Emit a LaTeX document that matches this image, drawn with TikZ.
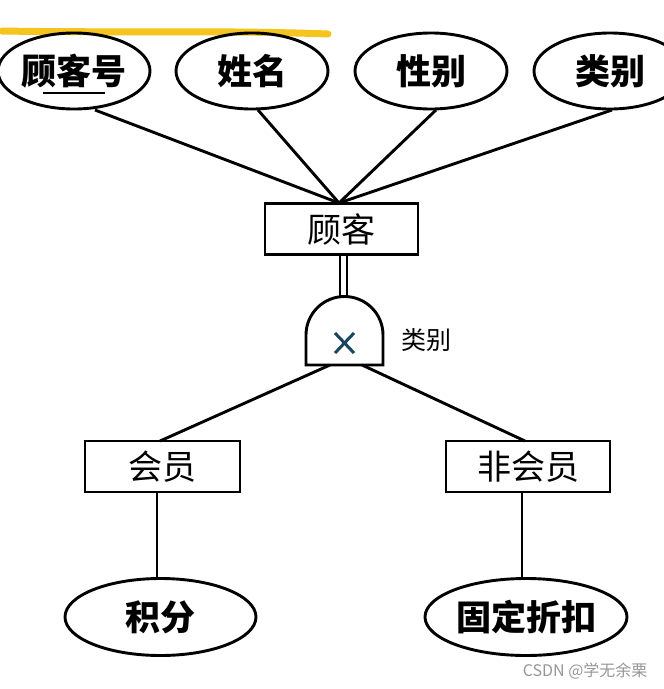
\documentclass[tikz,border=0pt]{standalone}
\usepackage{fontspec}
\usetikzlibrary{shapes.geometric}
\newfontfamily\cjk{Noto Sans CJK SC}
\begin{document}
\begin{tikzpicture}[x=1pt,y=-1pt,
  lw/.style={line width=2.9pt},
  attr/.style={ellipse,draw,lw,minimum width=152pt,minimum height=76pt,inner sep=0pt,font=\cjk\bfseries\fontsize{35}{35}\selectfont},
  ent/.style={rectangle,draw,lw,minimum height=51pt,inner sep=0pt,font=\cjk\fontsize{34}{34}\selectfont},
  conn/.style={lw}]
\useasboundingbox (0,0) rectangle (664,689);
\clip (0,0) rectangle (664,689);
% yellow highlight
\draw[line width=7pt,color={rgb,255:red,245;green,196;blue,30},line cap=round] (2,31) .. controls (120,33) and (220,30) .. (328,34);
% attributes
\node[attr] (gkh) at (74,71) {顾客号};
\node[attr] (xm) at (252,71) {姓名};
\node[attr] (xb) at (431,71) {性别};
\node[attr] (lb) at (610,71) {类别};
\draw[line width=2.9pt] (43,93) -- (105,93);
% entity
\node[ent,minimum width=153pt] (gk) at (341.5,229) {顾客};
\coordinate (top) at (339,203);
\draw[conn] (95,110) -- (top);
\draw[conn] (258,110) -- (top);
\draw[conn] (436,110) -- (top);
\draw[conn] (612,110) -- (top);
% specialization circle
\coordinate (d1) at (340,255);
\coordinate (d2) at (347,255);
\draw[conn] (d1) -- (340,298);
\draw[conn] (d2) -- (347,298);
\draw[lw,fill=white] (306,365) -- (306,335) arc[start angle=180,end angle=360,radius=38.5] -- (383,365) -- cycle;
\draw[line width=3pt,color={rgb,255:red,24;green,70;blue,96}] (335,333) -- (354,353) (335,353) -- (354,333);
\node[font=\cjk\fontsize{25}{25}\selectfont,anchor=west] (lbl) at (398,340) {类别};
% subclasses
\node[ent,minimum width=155pt] (hy) at (162.5,466.5) {会员};
\node[ent,minimum width=164pt] (fhy) at (528,466.5) {非会员};
\coordinate (s1) at (330,365);
\coordinate (s2) at (362,365);
\draw[conn] (s1) -- (160,441);
\draw[conn] (s2) -- (525,441);
% attributes of subclasses
\node[attr,minimum width=191pt,minimum height=77pt] (jf) at (160.5,617) {积分};
\node[attr,minimum width=202pt,minimum height=77pt] (gdzk) at (526,617) {固定折扣};
\draw[conn] (157,492) -- (157,579);
\draw[conn] (522,492) -- (522,579);
% watermark
\node[font=\cjk\fontsize{16}{16}\selectfont,text={rgb,255:red,150;green,150;blue,150},anchor=east] (wm) at (651,671) {CSDN @学无余栗};
\end{tikzpicture}
\end{document}
